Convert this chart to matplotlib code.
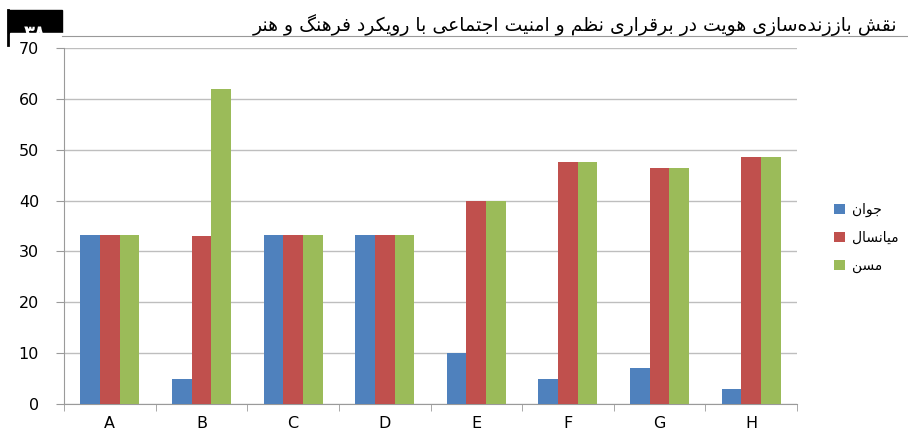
import matplotlib
matplotlib.use('Agg')

import numpy as np
import matplotlib.pyplot as plt

categories = ['A', 'B', 'C', 'D', 'E', 'F', 'G', 'H']
young = [33.3, 5, 33.3, 33.3, 10, 5, 7, 3]
middle = [33.3, 33, 33.3, 33.3, 40, 47.5, 46.5, 48.5]
old = [33.3, 62, 33.3, 33.3, 40, 47.5, 46.5, 48.5]
series_names = ['جوان', 'میانسال', 'مسن']
title_text = 'نقش باززنده\u200cسازی هویت در برقراری نظم و امنیت اجتماعی با رویکرد فرهنگ و هنر'
page_number = '۳۸'

# presentation forms: (isolated, final, initial, medial); None = does not join to the next letter
FORMS = {
    'ا': (0xFE8D, 0xFE8E, None, None),
    'ب': (0xFE8F, 0xFE90, 0xFE91, 0xFE92),
    'ت': (0xFE95, 0xFE96, 0xFE97, 0xFE98),
    'ج': (0xFE9D, 0xFE9E, 0xFE9F, 0xFEA0),
    'ح': (0xFEA1, 0xFEA2, 0xFEA3, 0xFEA4),
    'د': (0xFEA9, 0xFEAA, None, None),
    'ر': (0xFEAD, 0xFEAE, None, None),
    'ز': (0xFEAF, 0xFEB0, None, None),
    'س': (0xFEB1, 0xFEB2, 0xFEB3, 0xFEB4),
    'ش': (0xFEB5, 0xFEB6, 0xFEB7, 0xFEB8),
    'ظ': (0xFEC5, 0xFEC6, 0xFEC7, 0xFEC8),
    'ع': (0xFEC9, 0xFECA, 0xFECB, 0xFECC),
    'ف': (0xFED1, 0xFED2, 0xFED3, 0xFED4),
    'ق': (0xFED5, 0xFED6, 0xFED7, 0xFED8),
    'ل': (0xFEDD, 0xFEDE, 0xFEDF, 0xFEE0),
    'م': (0xFEE1, 0xFEE2, 0xFEE3, 0xFEE4),
    'ن': (0xFEE5, 0xFEE6, 0xFEE7, 0xFEE8),
    'ه': (0xFEE9, 0xFEEA, 0xFEEB, 0xFEEC),
    'و': (0xFEED, 0xFEEE, None, None),
    'ی': (0xFBFC, 0xFBFD, 0xFBFE, 0xFBFF),
    'ک': (0xFB8E, 0xFB8F, 0xFB90, 0xFB91),
    'گ': (0xFB92, 0xFB93, 0xFB94, 0xFB95),
}


def shape(text):
    # crude arabic shaping + reversal, matplotlib does no bidi
    out = []
    chars = list(text)
    for i, c in enumerate(chars):
        if c not in FORMS:
            if c != '\u200c':
                out.append(c)
            continue
        prev = chars[i - 1] if i > 0 else ''
        nxt = chars[i + 1] if i + 1 < len(chars) else ''
        join_prev = prev in FORMS and FORMS[prev][2] is not None
        join_next = nxt in FORMS and FORMS[c][2] is not None
        f = FORMS[c]
        if join_prev and join_next:
            code = f[3]
        elif join_prev:
            code = f[1]
        elif join_next:
            code = f[2]
        else:
            code = f[0]
        out.append(chr(code))
    return ''.join(reversed(out))


plt.rcParams['font.family'] = ['DejaVu Sans']

fig = plt.figure(figsize=(9.08, 4.42), dpi=100)
ax = fig.add_axes([64 / 908, 1 - 404 / 442, 733 / 908, 356 / 442])

colors = ['#4F81BD', '#C0504D', '#9BBB59']
x = np.arange(len(categories))
w = 0.215
for k, (vals, col, name) in enumerate(zip([young, middle, old], colors, series_names)):
    ax.bar(x + (k - 1) * w, vals, w, color=col, label=shape(name), zorder=3)

ax.set_xlim(-0.5, len(categories) - 0.5)
ax.set_ylim(0, 70)
ax.set_yticks(np.arange(0, 71, 10))
ax.set_xticks(x)
ax.set_xticklabels(categories)
ax.set_xticks(np.arange(-0.5, len(categories), 1), minor=True)
ax.yaxis.grid(True, color='#BEBEBE', linewidth=1, zorder=0)
for s in ['top', 'right']:
    ax.spines[s].set_visible(False)
for s in ['left', 'bottom']:
    ax.spines[s].set_color('#9A9A9A')
ax.tick_params(axis='y', length=6, color='#9A9A9A', labelsize=11.5, pad=12)
ax.tick_params(axis='x', which='major', length=0, labelsize=11.5, pad=9)
ax.tick_params(axis='x', which='minor', length=5, color='#9A9A9A')

leg = fig.legend(loc='center left', bbox_to_anchor=(821 / 908, 1 - 238 / 442), frameon=False,
                 fontsize=10, handlelength=0.8, handleheight=0.8, handletextpad=0.5,
                 labelspacing=1.0)

# page header (drawn below the axes)
fig.patches.append(plt.Rectangle((8 / 908, 1 - 33 / 442), 54 / 908, 23 / 442,
                                 transform=fig.transFigure, color='black', zorder=-3))
fig.text(35 / 908, 1 - 33 / 442, page_number, color='white', fontsize=13, fontweight='bold',
         ha='center', va='center', zorder=-2)
fig.patches.append(plt.Rectangle((10 / 908, 1 - 41 / 442), 898 / 908, 8 / 442,
                                 transform=fig.transFigure, color='white', zorder=-1))
fig.add_artist(plt.Line2D([62 / 908, 1], [1 - 36 / 442] * 2, color='#999999', linewidth=0.8,
                          zorder=-0.5))
fig.add_artist(plt.Line2D([8 / 908] * 2, [1 - 10 / 442, 1 - 45 / 442], color='black', linewidth=2))
fig.text(897 / 908, 1 - 31 / 442, shape(title_text), fontsize=13.5, ha='right', va='baseline')

plt.savefig('out.png', dpi=100)
plt.close()
